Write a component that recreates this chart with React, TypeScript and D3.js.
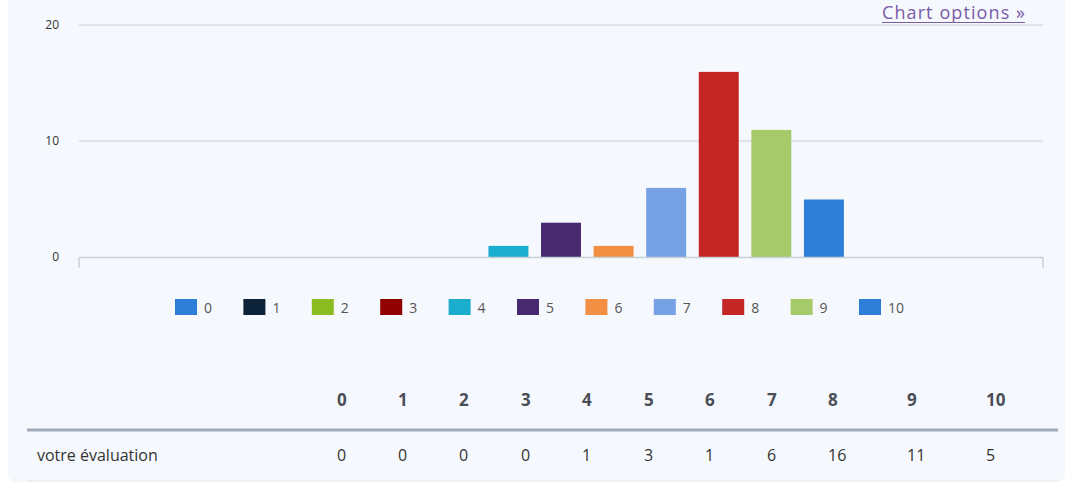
import * as d3 from "d3";
import React from "react";

// data
const categories = ["0", "1", "2", "3", "4", "5", "6", "7", "8", "9", "10"];
const values = [0, 0, 0, 0, 1, 3, 1, 6, 16, 11, 5];
const rowLabel = "votre évaluation";
const yTicks = [0, 10, 20];
const colors = ["#2f7ed8", "#0d233a", "#8bbc21", "#910000", "#1aadce", "#492970",
  "#f28f43", "#77a1e5", "#c42525", "#a6c96a", "#2f7ed8"];

const W = 1071;
const H = 483;
const PLOT = {left: 79, right: 1043, top: 25.5, bottom: 257.5};
const FONT = "'Open Sans', 'DejaVu Sans', sans-serif";
// left edge of each table column (cells are left aligned)
const COL_X = [337, 398, 459, 521, 582, 644, 705, 767, 828, 907, 986];

const App = () => {
  const y = d3.scaleLinear().domain([0, 20]).range([PLOT.bottom, PLOT.top]);
  // one category, each score is its own series -> grouped bars
  const outer = d3.scaleBand().domain(["all"]).range([PLOT.left, PLOT.right]).paddingInner(0).paddingOuter(0);
  const groupPad = outer.bandwidth() * 0.2;
  const inner = d3.scaleBand().domain(categories)
    .range([outer("all")! + groupPad, outer("all")! + outer.bandwidth() - groupPad])
    .paddingInner(0.24).paddingOuter(0.12);

  const legend = d3.scalePoint().domain(categories).range([175, 859]);

  return (
    <svg width={W} height={H} style={{position: "absolute", left: 0, top: 0}} fontFamily={FONT}>
      <rect x={0} y={0} width={W} height={H} fill="#ffffff"/>
      <rect x={8} y={-10} width={1057} height={H + 10 - 1} rx={8} fill="#f5f8fc"/>

      {/* grid */}
      {yTicks.map(t => (
        <g key={t}>
          {t > 0 && <line x1={PLOT.left} x2={PLOT.right} y1={y(t) - 0.5} y2={y(t) - 0.5} stroke="#d8dde3" strokeWidth={1.5}/>}
          <text x={59} y={y(t) + 3} fontSize={12} fill="#333" textAnchor="end">{t}</text>
        </g>
      ))}

      {/* bars */}
      {categories.map((c, i) => (
        <rect key={c} x={inner(c)} y={y(values[i])} width={inner.bandwidth()}
              height={y(0) - y(values[i])} fill={colors[i]}/>
      ))}

      {/* x axis */}
      <line x1={PLOT.left} x2={PLOT.right} y1={y(0)} y2={y(0)} stroke="#c8d0d8" strokeWidth={1.5}/>
      <line x1={PLOT.left} x2={PLOT.left} y1={y(0)} y2={y(0) + 10} stroke="#c8d0d8" strokeWidth={1.5}/>
      <line x1={PLOT.right} x2={PLOT.right} y1={y(0)} y2={y(0) + 10} stroke="#c8d0d8" strokeWidth={1.5}/>

      {/* chart options link */}
      <text x={882} y={19} fontSize={18} fill="#7a5ba8" textLength={143} lengthAdjust="spacing">Chart options »</text>
      <line x1={882} x2={1025} y1={22.5} y2={22.5} stroke="#7a5ba8" strokeWidth={1.2}/>

      {/* legend */}
      {categories.map((c, i) => (
        <g key={c} transform={`translate(${legend(c)},299)`}>
          <rect x={0} y={0} width={22} height={16} fill={colors[i]}/>
          <text x={29} y={13.5} fontSize={14} fill="#555">{c}</text>
        </g>
      ))}

      {/* data table */}
      {categories.map((c, i) => (
        <g key={c}>
          <text x={COL_X[i]} y={406} fontSize={17} fontWeight="bold" fill="#4a4f57">{c}</text>
          <text x={COL_X[i]} y={461} fontSize={16} fill="#333">{values[i]}</text>
        </g>
      ))}
      <line x1={27} x2={1058} y1={430} y2={430} stroke="#a3abb9" strokeWidth={3}/>
      <text x={37} y={461} fontSize={16} fill="#333">{rowLabel}</text>
      <line x1={27} x2={1058} y1={481} y2={481} stroke="#e3e8ee" strokeWidth={1}/>
    </svg>
  );
};

export default App;
